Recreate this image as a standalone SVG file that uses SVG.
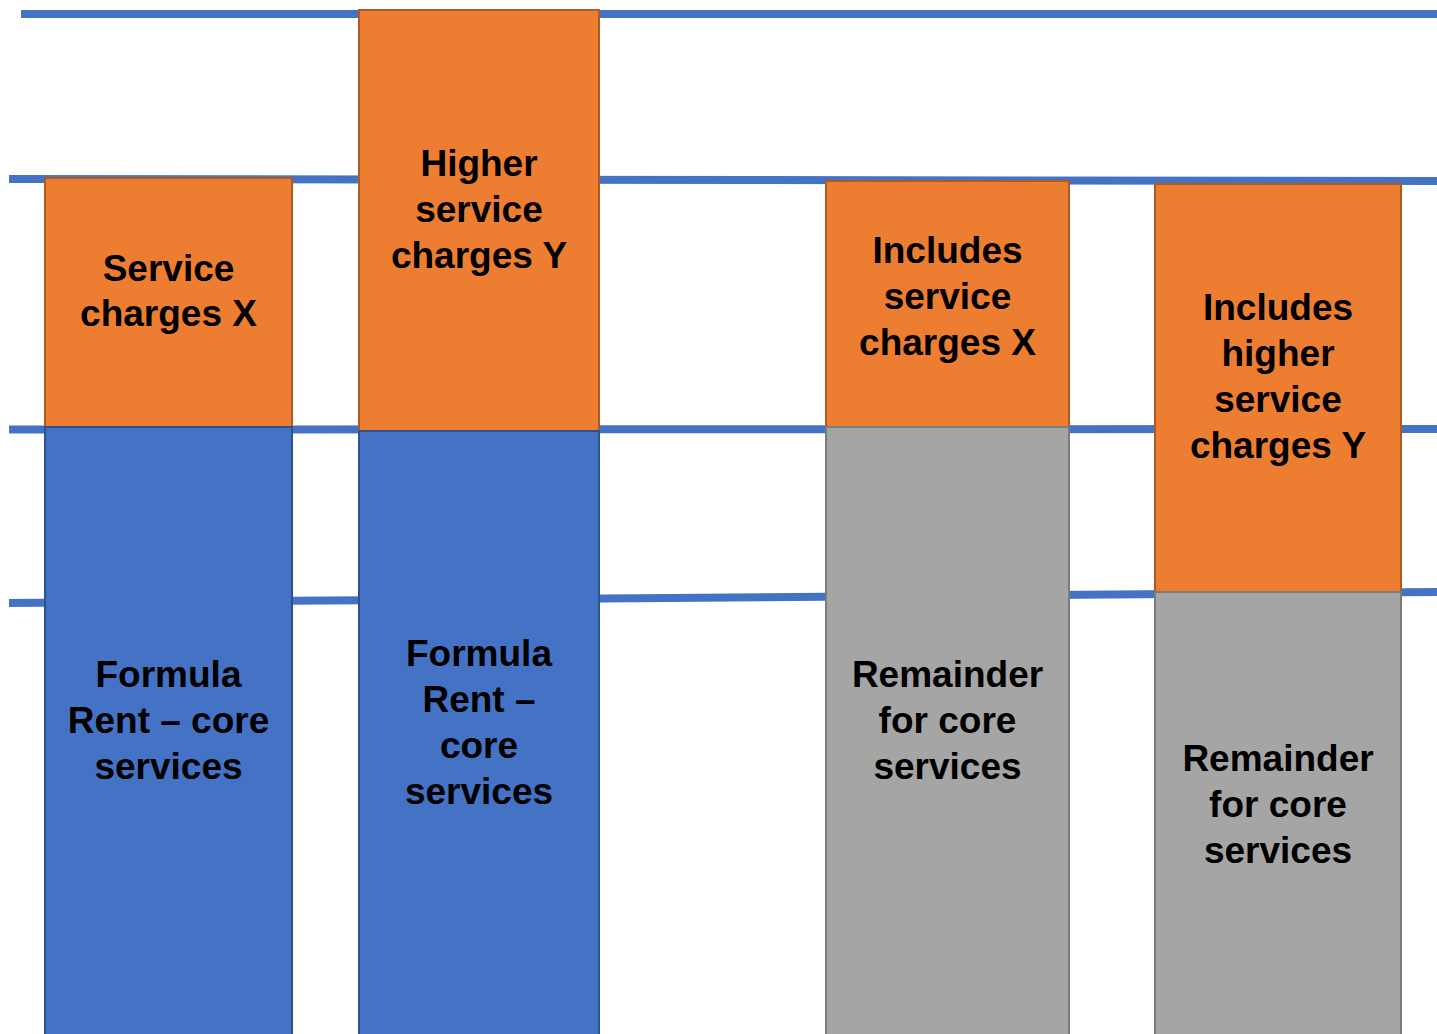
<svg xmlns="http://www.w3.org/2000/svg" width="1437" height="1034" viewBox="0 0 1437 1034">
  <style>
    .level { stroke: #4472C4; stroke-width: 8; fill: none; }
    .charge { fill: #ED7D31; stroke: #AE5A21; stroke-width: 2; }
    .rent { fill: #4472C4; stroke: #2F528F; stroke-width: 2; }
    .rest { fill: #A5A5A5; stroke: #7B7B7B; stroke-width: 2; }
    .label { font-family: "Liberation Sans", Arial, sans-serif; font-weight: bold; font-size: 37px; fill: #000; text-anchor: middle; }
  </style>
  <rect width="1437" height="1034" fill="#FFFFFF"/>

  <!-- horizontal reference levels, drawn behind the bars -->
  <g id="levels">
    <line class="level" x1="21" y1="14" x2="1437" y2="14"/>
    <line class="level" x1="9" y1="179" x2="1437" y2="181"/>
    <line class="level" x1="9" y1="429.5" x2="1437" y2="429"/>
    <line class="level" x1="9" y1="603" x2="1437" y2="592"/>
  </g>

  <!-- bar 1: formula rent plus service charges X -->
  <g id="bar1-service">
    <rect class="charge" x="45" y="178" width="247" height="249"/>
    <text class="label" x="168.5" y="281">Service</text>
    <text class="label" x="168.5" y="326">charges X</text>
  </g>
  <g id="bar1-rent">
    <rect class="rent" x="45" y="427" width="247" height="620"/>
    <text class="label" x="168.5" y="687">Formula</text>
    <text class="label" x="168.5" y="733">Rent – core</text>
    <text class="label" x="168.5" y="779">services</text>
  </g>

  <!-- bar 2: formula rent plus higher service charges Y -->
  <g id="bar2-service">
    <rect class="charge" x="359" y="10" width="240" height="421"/>
    <text class="label" x="479" y="176">Higher</text>
    <text class="label" x="479" y="222">service</text>
    <text class="label" x="479" y="268">charges Y</text>
  </g>
  <g id="bar2-rent">
    <rect class="rent" x="359" y="431" width="240" height="616"/>
    <text class="label" x="479" y="666">Formula</text>
    <text class="label" x="479" y="712">Rent –</text>
    <text class="label" x="479" y="758">core</text>
    <text class="label" x="479" y="804">services</text>
  </g>

  <!-- bar 3: capped total including service charges X -->
  <g id="bar3-service">
    <rect class="charge" x="826" y="181" width="243" height="246"/>
    <text class="label" x="947.5" y="263">Includes</text>
    <text class="label" x="947.5" y="309">service</text>
    <text class="label" x="947.5" y="355">charges X</text>
  </g>
  <g id="bar3-remainder">
    <rect class="rest" x="826" y="427" width="243" height="620"/>
    <text class="label" x="947.5" y="687">Remainder</text>
    <text class="label" x="947.5" y="733">for core</text>
    <text class="label" x="947.5" y="779">services</text>
  </g>

  <!-- bar 4: capped total including higher service charges Y -->
  <g id="bar4-service">
    <rect class="charge" x="1155" y="184" width="246" height="408"/>
    <text class="label" x="1278" y="320">Includes</text>
    <text class="label" x="1278" y="366">higher</text>
    <text class="label" x="1278" y="412">service</text>
    <text class="label" x="1278" y="458">charges Y</text>
  </g>
  <g id="bar4-remainder">
    <rect class="rest" x="1155" y="592" width="246" height="455"/>
    <text class="label" x="1278" y="771">Remainder</text>
    <text class="label" x="1278" y="817">for core</text>
    <text class="label" x="1278" y="863">services</text>
  </g>
</svg>
